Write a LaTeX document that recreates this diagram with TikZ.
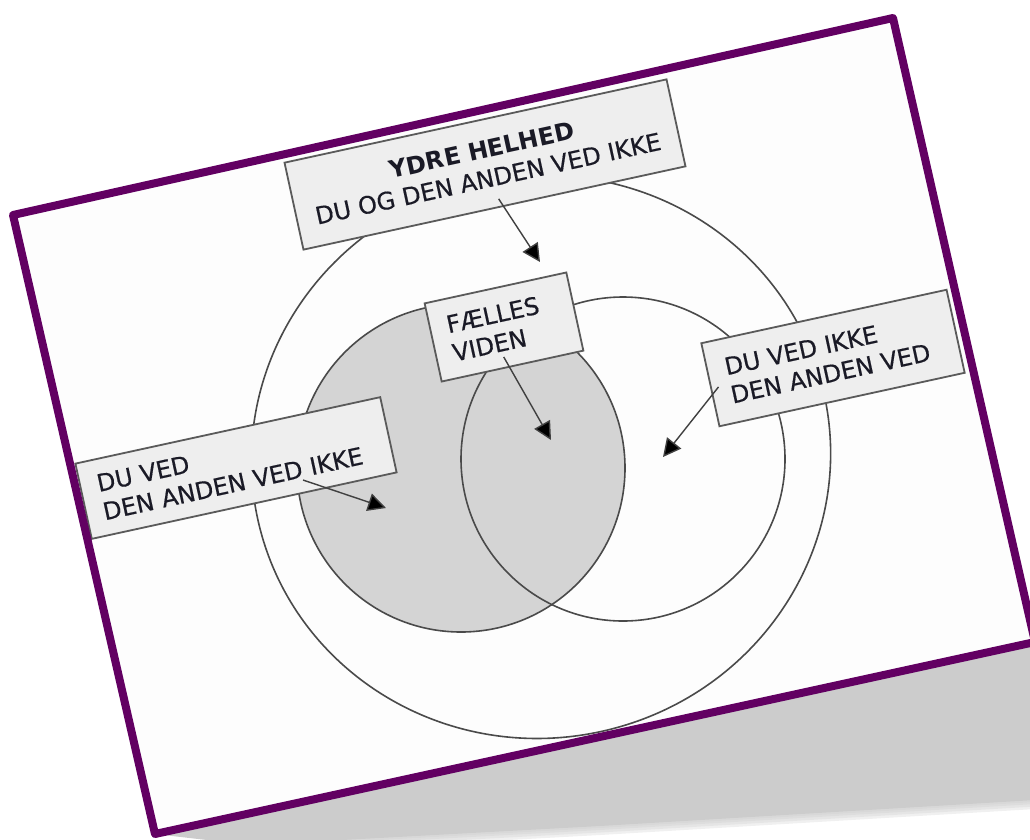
\documentclass[tikz,border=0pt]{standalone}
\usepackage{fontspec}
\setmainfont{DejaVu Sans}
\newfontfamily\labelfont{DejaVu Sans}[FakeBold=0.5]
\usetikzlibrary{arrows.meta}
\definecolor{framepurple}{HTML}{620062}
\definecolor{boxfill}{HTML}{EEEEEE}
\definecolor{boxline}{HTML}{5A5A5A}
\definecolor{circline}{HTML}{4A4A4A}
\definecolor{venngray}{HTML}{D4D4D4}
\definecolor{shadowgray}{HTML}{CCCCCC}
\definecolor{inktext}{HTML}{1A1A26}
\definecolor{paper}{HTML}{FDFDFD}
\begin{document}
\begin{tikzpicture}[x=1pt,y=-1pt,
  labelbox/.style={draw=boxline, line width=1.8pt, fill=boxfill, rotate=12.3,
    inner ysep=0pt, font=\labelfont\fontsize{24}{29}\selectfont, text=inktext},
  pointer/.style={draw=black!75, line width=1.4pt,
    -{Triangle[length=18pt,width=18pt,fill=black]}},
  ring/.style={draw=circline, line width=1.6pt}]
\useasboundingbox (0,0) rectangle (1030,839);
% shadow under the sheet
\fill[shadowgray] (155,834) -- (1035,642) -- (1035,800) -- (600,826) -- (250,845) -- cycle;
\foreach \w in {18,13,8,4}
  \draw[shadowgray, opacity=0.3, line width=\w pt] (250,845) -- (600,826) -- (1035,800);
% sheet
\fill[paper] (13,215) -- (893,18) -- (1035,642) -- (155,834) -- cycle;
% circles
\fill[venngray] (461,468) circle [radius=164];
\draw[ring, rotate around={12.5:(541,457)}] (541,457) ellipse [x radius=290, y radius=281];
\draw[ring] (461,468) circle [radius=164];
\draw[ring] (623,459) circle [radius=162];
% labels
\node[labelbox, minimum width=391pt, minimum height=89pt, align=center] (ydre) at (485,164.5)
  {{\setmainfont{DejaVu Sans}\bfseries YDRE HELHED}\\DU OG DEN ANDEN VED IKKE};
\node[labelbox, inner xsep=17pt, text width=111pt, minimum height=80pt, align=left] (faelles) at (504,327)
  {FÆLLES\\VIDEN};
\node[labelbox, inner xsep=18pt, text width=215pt, minimum height=85pt, align=left] (duvedikke) at (833,358)
  {DU VED IKKE\\DEN ANDEN VED};
\node[labelbox, inner xsep=17pt, text width=278pt, minimum height=77pt, align=left] (duved) at (236,468)
  {DU VED\\DEN ANDEN VED IKKE};
% arrow targets
\coordinate (tydre) at (540,262);
\coordinate (tfaelles) at (551,440);
\coordinate (tduvedikke) at (663,457);
\coordinate (tduved) at (386,508);
\draw[pointer] ([shift={(4,-10)}]ydre.south) -- (tydre);
\draw[pointer] ([shift={(-9,-10)}]faelles.south) -- (tfaelles);
\draw[pointer] ([shift={(9,2)}]duvedikke.west) -- (tduvedikke);
\draw[pointer] ([shift={(67,12)}]duved.center) -- (tduved);
% sheet border
\draw[framepurple, line width=8pt, line join=round] (13,215) -- (893,18) -- (1035,642) -- (155,834) -- cycle;
\end{tikzpicture}
\end{document}
